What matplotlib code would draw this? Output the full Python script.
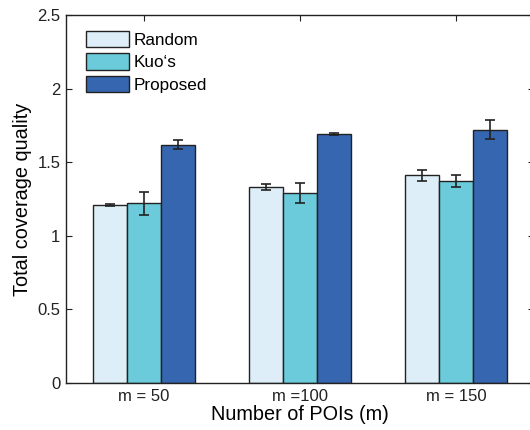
import matplotlib
matplotlib.use("Agg")
import matplotlib.pyplot as plt
import numpy as np

categories = ["m = 50", "m =100", "m = 150"]
series = ["Random", "Kuo\u2018s", "Proposed"]
random_vals = [1.21, 1.33, 1.41]
random_err = [0.005, 0.02, 0.04]
kuo_vals = [1.22, 1.29, 1.37]
kuo_err = [0.08, 0.07, 0.04]
proposed_vals = [1.62, 1.69, 1.72]
proposed_err = [0.03, 0.005, 0.065]
colors = ["#DDEEF8", "#6BCBDB", "#3766B0"]

plt.rcParams['font.family'] = ['Liberation Sans', 'DejaVu Sans']

fig = plt.figure(figsize=(5.3, 4.3), dpi=100)
ax = fig.add_axes([66/530, 47/430, 468/530, 368/430])

x = np.arange(1, len(categories) + 1)
w = 0.22
vals = [random_vals, kuo_vals, proposed_vals]
errs = [random_err, kuo_err, proposed_err]
for i, (v, e, c, name) in enumerate(zip(vals, errs, colors, series)):
    ax.bar(x + (i - 1) * w, v, w, color=c, edgecolor="#222222", linewidth=1.0,
           label=name, zorder=2)
    ax.errorbar(x + (i - 1) * w, v, yerr=e, fmt="none", ecolor="#222222",
                elinewidth=1.2, capsize=3.5, capthick=1.2, zorder=3)

ax.set_xlim(0.5, 3.5)
ax.set_ylim(0, 2.5)
ax.set_xticks(x)
ax.set_xticklabels(categories)
ax.set_yticks([0, 0.5, 1, 1.5, 2, 2.5])
ax.set_yticklabels(["0", "0.5", "1", "1.5", "2", "2.5"])
ax.tick_params(direction="in", top=True, right=True, labelsize=12, length=4,
               colors="#222222", pad=4)
for s in ax.spines.values():
    s.set_color("#222222")
    s.set_linewidth(1.0)
ax.set_xlabel("Number of POIs (m)", fontsize=14.3, labelpad=1)
ax.set_ylabel("Total coverage quality", fontsize=14.3, labelpad=4)

ax.legend(loc="upper left", frameon=False, fontsize=12.3, handlelength=2.5,
          handleheight=1.1, handletextpad=0.3, labelspacing=0.33,
          bbox_to_anchor=(0.017, 0.99), borderaxespad=0.3)

fig.savefig("out.png", dpi=100)
